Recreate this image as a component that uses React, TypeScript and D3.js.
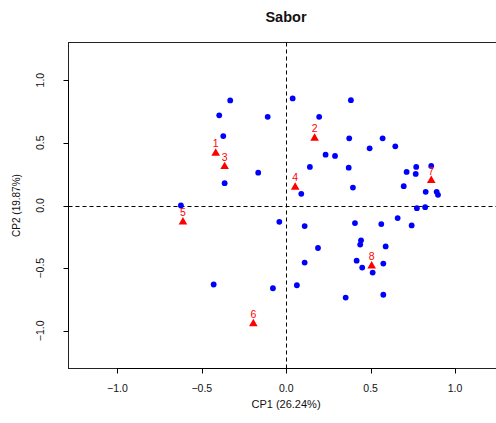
import React from "react";
import * as d3 from "d3";

const title = "Sabor";
const xLabel = "CP1 (26.24%)";
const yLabel = "CP2 (19.87%)";
const xTicks = [-1.0, -0.5, 0.0, 0.5, 1.0];
const yTicks = [-1.0, -0.5, 0.0, 0.5, 1.0];

const attrX = [
  -0.332, -0.397, -0.11, -0.373, -0.166, -0.365, -0.624, 0.038, 0.383, 0.195,
  0.373, 0.571, 0.494, 0.646, 0.233, 0.289, 0.14, 0.37, 0.713, 0.77,
  0.767, 0.859, 0.089, 0.395, 0.696, 0.826, 0.891, 0.899, 0.774, 0.823,
  -0.041, 0.109, 0.407, 0.563, 0.66, 0.743, 0.443, 0.438, 0.589, 0.188,
  0.109, 0.417, 0.45, 0.575, 0.512, -0.079, 0.063, 0.352, 0.575, -0.43,
];
const attrY = [
  0.838, 0.719, 0.707, 0.554, 0.262, 0.178, 0.0, 0.854, 0.84, 0.707,
  0.536, 0.536, 0.456, 0.472, 0.405, 0.395, 0.308, 0.302, 0.268, 0.308,
  0.252, 0.316, 0.093, 0.143, 0.154, 0.109, 0.109, 0.085, -0.021, -0.013,
  -0.13, -0.164, -0.14, -0.148, -0.1, -0.159, -0.278, -0.312, -0.326, -0.339,
  -0.455, -0.44, -0.495, -0.463, -0.535, -0.66, -0.636, -0.734, -0.712, -0.63,
];

const sampleLabels = ["1", "2", "3", "4", "5", "6", "7", "8"];
const sampleX = [-0.418, 0.168, -0.365, 0.053, -0.612, -0.195, 0.859, 0.506];
const sampleY = [0.417, 0.536, 0.31, 0.146, -0.132, -0.943, 0.199, -0.482];

const W = 496;
const H = 423;
const left = 68.5;
const right = 504;
const top = 42.5;
const bottom = 368.5;

export default function App() {
  const x = d3.scaleLinear().domain([-1.29, 1.29]).range([left, right]);
  const y = d3.scaleLinear().domain([-1.3, 1.3]).range([bottom, top]);
  const font = "'Liberation Sans', Arial, Helvetica, sans-serif";
  const tri = d3.symbol().type(d3.symbolTriangle).size(32)() as string;
  const fmt = d3.format(".1f");

  return (
    <svg
      width={W}
      height={H}
      style={{ position: "absolute", left: 0, top: 0, background: "#fff" }}
      fontFamily={font}
    >
      <rect x={0} y={0} width={W} height={H} fill="#fff" />
      <text x={286} y={22} textAnchor="middle" fontWeight="bold" fontSize={14.5} fill="#111">
        {title}
      </text>
      {/* box */}
      <rect x={left} y={top} width={right - left} height={bottom - top} fill="none" stroke="#222" strokeWidth={1} />
      {/* reference lines */}
      <line x1={Math.round(x(0)) + 0.5} x2={Math.round(x(0)) + 0.5} y1={top} y2={bottom} stroke="#000" strokeDasharray="4,3" />
      <line x1={left} x2={right} y1={Math.round(y(0)) + 0.5} y2={Math.round(y(0)) + 0.5} stroke="#000" strokeDasharray="4,3" />
      {/* x axis */}
      <line x1={x(-1)} x2={x(1)} y1={bottom} y2={bottom} stroke="#000" />
      {xTicks.map((t) => (
        <g key={"xt" + t}>
          <line x1={Math.round(x(t)) + 0.5} x2={Math.round(x(t)) + 0.5} y1={bottom} y2={bottom + 5} stroke="#000" />
          <text x={x(t)} y={392} textAnchor="middle" fontSize={10.5} fill="#111">
            {fmt(t)}
          </text>
        </g>
      ))}
      <text x={286} y={408} textAnchor="middle" fontSize={11} fill="#111">
        {xLabel}
      </text>
      {/* y axis */}
      <line x1={left} x2={left} y1={y(-1)} y2={y(1)} stroke="#000" />
      {yTicks.map((t) => (
        <g key={"yt" + t}>
          <line x1={left} x2={left - 5} y1={Math.round(y(t)) + 0.5} y2={Math.round(y(t)) + 0.5} stroke="#000" />
          <text
            transform={`translate(${44},${y(t)}) rotate(-90)`}
            textAnchor="middle"
            fontSize={10.5}
            fill="#111"
          >
            {fmt(t)}
          </text>
        </g>
      ))}
      <text transform={`translate(20,${y(0)}) rotate(-90)`} textAnchor="middle" fontSize={10} fill="#111">
        {yLabel}
      </text>
      {/* attribute points */}
      {attrX.map((v, i) => (
        <circle key={"p" + i} cx={x(v)} cy={y(attrY[i])} r={2.9} fill="#0000FF" />
      ))}
      {/* samples */}
      {sampleX.map((v, i) => (
        <g key={"s" + i}>
          <path d={tri} transform={`translate(${x(v)},${y(sampleY[i])})`} fill="#FF0000" />
          <text x={x(v)} y={y(sampleY[i]) - 6} textAnchor="middle" fontSize={10.5} fill="#FF0000">
            {sampleLabels[i]}
          </text>
        </g>
      ))}
    </svg>
  );
}
